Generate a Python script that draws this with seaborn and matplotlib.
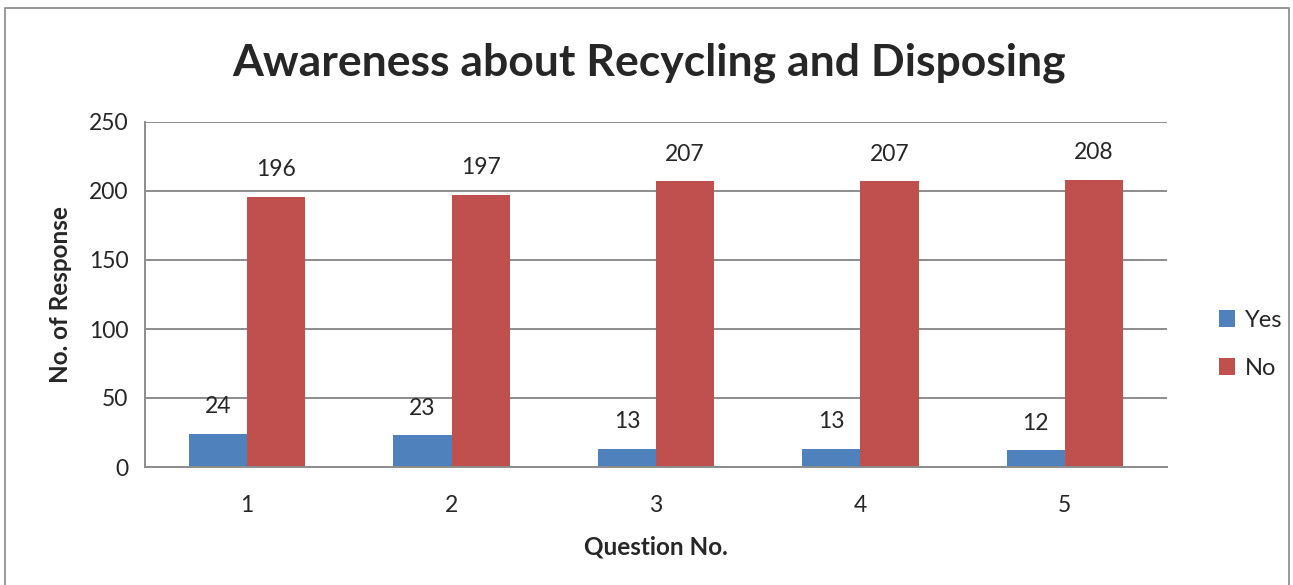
import matplotlib
matplotlib.use("Agg")
import matplotlib.pyplot as plt
from matplotlib.patches import Rectangle
from matplotlib.ticker import FixedLocator
import seaborn as sns
import pandas as pd

questions = ["1", "2", "3", "4", "5"]
yes_counts = [24, 23, 13, 13, 12]
no_counts = [196, 197, 207, 207, 208]
series_names = ["Yes", "No"]
series_colors = ["#4F81BD", "#C0504D"]
y_ticks = [0, 50, 100, 150, 200, 250]

df = pd.DataFrame({
    "Question": questions * 2,
    "Answer": [series_names[0]] * len(questions) + [series_names[1]] * len(questions),
    "Count": yes_counts + no_counts,
})

sns.set_theme(style="white")
plt.rcParams["font.family"] = ["Lato", "DejaVu Sans"]

W, H = 1293, 585
fig = plt.figure(figsize=(W / 100, H / 100), dpi=100)
fig.patch.set_facecolor("white")
ax = fig.add_axes([145 / W, (H - 467) / H, 1022 / W, 345 / H])

sns.barplot(data=df, x="Question", y="Count", hue="Answer",
            palette=series_colors, width=0.57, saturation=1,
            edgecolor="none", linewidth=0, ax=ax, legend=True)

grid_col = "#8c8c8c"
ax.set_ylim(0, 250)
ax.set_xlim(-0.5, len(questions) - 0.5)
ax.set_yticks(y_ticks)
ax.yaxis.grid(True, color=grid_col, linewidth=1.4)
ax.set_axisbelow(True)
for side in ["top", "right"]:
    ax.spines[side].set_visible(False)
for side in ["left", "bottom"]:
    ax.spines[side].set_color(grid_col)
    ax.spines[side].set_linewidth(1.4)

ax.tick_params(axis="y", length=8, width=1.4, color=grid_col, labelsize=16.5, pad=4)
ax.tick_params(axis="x", which="major", length=0, labelsize=16.5, pad=20)
ax.xaxis.set_minor_locator(FixedLocator([i - 0.5 for i in range(len(questions) + 1)]))
ax.tick_params(axis="x", which="minor", length=9, width=1.4, color=grid_col, direction="out")

ax.set_xlabel("Question No.", fontsize=17.5, fontweight="bold", labelpad=14)
ax.set_ylabel("No. of Response", fontsize=17.5, fontweight="bold", labelpad=12)

for container in ax.containers:
    ax.bar_label(container, fmt="%d", padding=12, fontsize=16.5)

fig.text(0.502, 0.893, "Awareness about Recycling and Disposing",
         ha="center", va="center", fontsize=32, fontweight="bold")

leg = ax.legend(loc="center left", bbox_to_anchor=(1.03, 0.356), frameon=False,
                fontsize=17, handlelength=0.7, handleheight=0.7,
                labelspacing=1.15, handletextpad=0.4)

fig.patches.append(Rectangle((5 / W, -0.01), (1289 - 5) / W, (H - 8) / H + 0.01,
                             transform=fig.transFigure, fill=False,
                             edgecolor="#888888", linewidth=1.2))

fig.savefig("out.png", dpi=100)
